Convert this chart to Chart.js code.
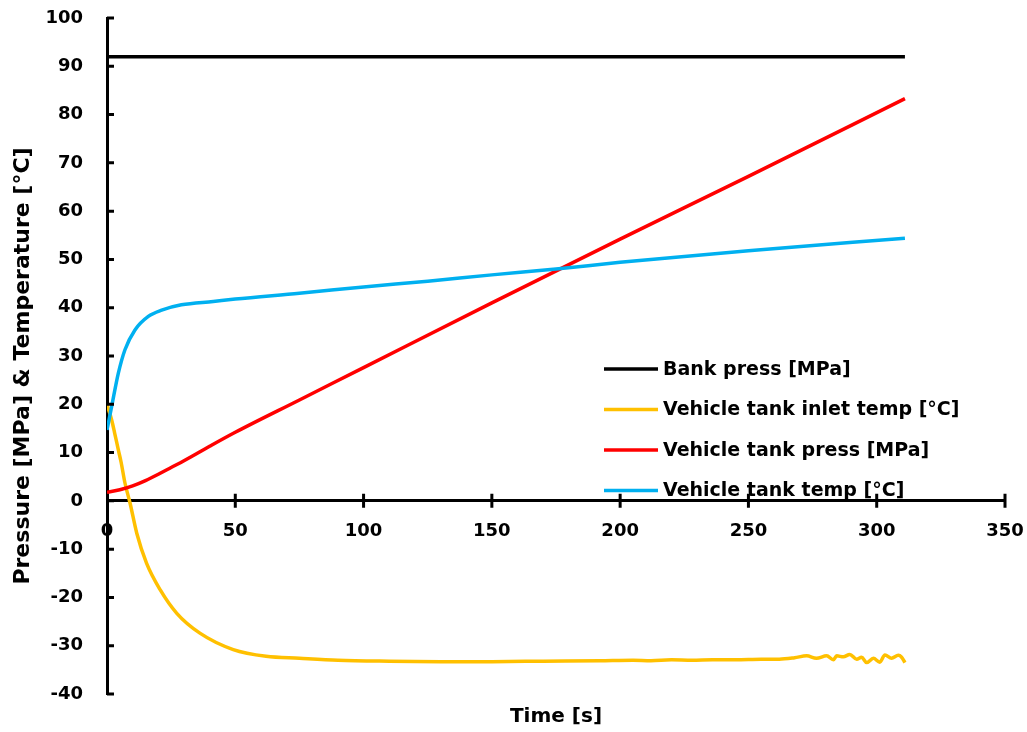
<!DOCTYPE html>
<html>
<head>
<meta charset="utf-8">
<script src="https://cdn.jsdelivr.net/npm/chart.js@4.4.1/dist/chart.umd.min.js"></script>
<style>
  body { margin: 0; background: #fff; }
  #wrap { width: 1027px; height: 732px; }
</style>
</head>
<body>
<div id="wrap"><canvas id="myChart"></canvas></div>
<script>
// series
const bankTime = [0, 311];
const bankPress = [92, 92];

const inletTime = [0, 1.8, 3, 4.4, 5.5, 7, 9, 11.6, 15.4, 20.7, 27.2, 36.2, 49.2, 62, 75, 90, 110, 130, 150, 170, 192,
  205, 212, 220, 228, 236, 245, 255, 262, 268, 272.7, 276.5, 280.5, 283.1, 284.4, 287, 289.5, 292.2, 294.1, 296.1,
  298.7, 301.2, 303.2, 305.8, 308.4, 309.7, 311];
const inletTemp = [19.9, 16.8, 14, 10.6, 8, 3.7, -0.5, -6.7, -12.9, -18.4, -23.3, -27.4, -30.8, -32.2, -32.6, -33.0, -33.2, -33.3, -33.3, -33.2, -33.1,
  -33.0, -33.1, -32.9, -33.0, -32.9, -32.9, -32.8, -32.8, -32.5, -32.1, -32.6, -32.1, -32.9, -32.1, -32.3, -31.8, -32.8, -32.4, -33.5,
  -32.6, -33.4, -31.9, -32.6, -32.0, -32.4, -33.5];

const pressTime = [0, 5, 10, 15, 20, 25, 30, 40, 50, 75, 100, 150, 200, 250, 311];
const tankPress = [1.8, 2.3, 3.1, 4.2, 5.5, 6.9, 8.3, 11.3, 14.2, 20.9, 27.6, 41.0, 54.2, 67.2, 83.3];

const tempTime = [0, 1.8, 4.4, 7, 10.9, 16.1, 21.3, 29, 41.4, 50, 75, 100, 125, 150, 175, 200, 250, 311];
const tankTemp = [14.7, 19.5, 26.4, 31.3, 35.4, 38.2, 39.5, 40.6, 41.3, 41.8, 43.0, 44.3, 45.5, 46.8, 48.0, 49.4, 51.8, 54.4];

const seriesNames = ['Bank press [MPa]', 'Vehicle tank inlet temp [°C]', 'Vehicle tank press [MPa]', 'Vehicle tank temp [°C]'];
const seriesColors = ['#000000', '#FFC000', '#FF0000', '#00B0F0'];
const yTitle = 'Pressure [MPa] & Temperature [°C]';

const FONT = 'DejaVu Sans';

function pts(xs, ys) {
  return xs.map((x, i) => ({ x: x, y: ys[i] }));
}

// tick marks (inside on y, crossing on x), y title and the legend inside the plot
const tickMarks = {
  id: 'tickMarks',
  afterDraw(chart) {
    const c = chart.ctx;
    const x = chart.scales.x;
    const y = chart.scales.y;
    const x0 = x.left;
    const y0 = y.getPixelForValue(0);
    c.save();
    c.strokeStyle = '#000';
    c.lineWidth = 3;
    c.beginPath();
    y.ticks.forEach(t => {
      const py = y.getPixelForValue(t.value);
      c.moveTo(x0, py);
      c.lineTo(x0 + 7, py);
    });
    x.ticks.forEach(t => {
      if (t.value === 0) return;
      const px = x.getPixelForValue(t.value);
      c.moveTo(px, y0 - 7);
      c.lineTo(px, y0 + 7);
    });
    c.stroke();

    c.save();
    c.translate(23, 366);
    c.rotate(-Math.PI / 2);
    c.font = 'bold 22px "' + FONT + '"';
    c.textAlign = 'center';
    c.textBaseline = 'middle';
    c.fillStyle = '#000';
    c.fillText(yTitle, 0, 0);
    c.restore();

    const lx = 604, ly = 369, gap = 40.5;
    c.font = 'bold 19px "' + FONT + '"';
    c.textBaseline = 'middle';
    c.textAlign = 'left';
    seriesNames.forEach((name, i) => {
      const yy = ly + i * gap;
      c.strokeStyle = seriesColors[i];
      c.lineWidth = 3.5;
      c.beginPath();
      c.moveTo(lx, yy);
      c.lineTo(lx + 54, yy);
      c.stroke();
      c.fillStyle = '#000';
      c.fillText(name, lx + 59, yy + 1);
    });
    c.restore();
  }
};

const hiddenTicks = (len) => ({
  display: true, drawOnChartArea: false, drawTicks: true,
  tickLength: len, tickColor: 'rgba(0,0,0,0)', color: 'rgba(0,0,0,0)'
});

const ctx = document.getElementById('myChart');
new Chart(ctx, {
  type: 'line',
  data: {
    datasets: [
      { label: seriesNames[0], data: pts(bankTime, bankPress), borderColor: seriesColors[0], order: 4 },
      { label: seriesNames[1], data: pts(inletTime, inletTemp), borderColor: seriesColors[1], order: 3 },
      { label: seriesNames[2], data: pts(pressTime, tankPress), borderColor: seriesColors[2], order: 2 },
      { label: seriesNames[3], data: pts(tempTime, tankTemp), borderColor: seriesColors[3], order: 1 }
    ]
  },
  options: {
    responsive: true,
    maintainAspectRatio: false,
    animation: false,
    layout: { padding: { left: 0, right: 22, top: 18, bottom: 0 } },
    elements: {
      point: { radius: 0 },
      line: { borderWidth: 3.5, cubicInterpolationMode: 'monotone', fill: false }
    },
    plugins: {
      legend: { display: false },
      tooltip: { enabled: false }
    },
    scales: {
      x: {
        type: 'linear',
        position: { y: 0 },
        min: 0,
        max: 350,
        ticks: { stepSize: 50, color: '#000', padding: 3, font: { family: FONT, size: 18, weight: 'bold' } },
        grid: hiddenTicks(17),
        border: { display: true, color: '#000', width: 3 }
      },
      x2: {
        type: 'linear',
        position: 'bottom',
        min: 0,
        max: 350,
        ticks: { display: false },
        grid: { display: false, drawTicks: false },
        border: { display: false },
        title: { display: true, text: 'Time [s]', color: '#000', padding: { top: 0, bottom: 3 }, font: { family: FONT, size: 20, weight: 'bold' } },
        afterFit(scale) { scale.height = 38; }
      },
      y: {
        type: 'linear',
        position: 'left',
        min: -40,
        max: 100,
        ticks: { stepSize: 10, color: '#000', padding: 3, font: { family: FONT, size: 18, weight: 'bold' } },
        grid: hiddenTicks(21),
        border: { display: true, color: '#000', width: 3 },
        afterFit(scale) { scale.width = 107; }
      }
    }
  },
  plugins: [tickMarks]
});
</script>
</body>
</html>
